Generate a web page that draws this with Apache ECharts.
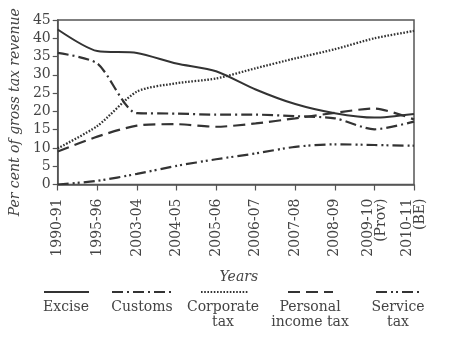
<!DOCTYPE html>
<html><head><meta charset="utf-8">
<script src="https://cdn.jsdelivr.net/npm/echarts@6/dist/echarts.min.js"></script>
<style>html,body{margin:0;padding:0;background:#fff}#c{width:451px;height:341px}</style>
</head><body><div id="c"></div>
<script>
const categories = ['1990-91','1995-96','2003-04','2004-05','2005-06','2006-07','2007-08','2008-09','2009-10\n(Prov)','2010-11\n(BE)'];
const excise    = [42.4, 36.5, 36.0, 33.1, 31.0, 26.0, 22.0, 19.5, 18.3, 19.3];
const customs   = [36.0, 33.1, 19.5, 19.4, 19.1, 19.1, 18.7, 18.1, 15.1, 17.2];
const corporate = [9.9, 16.0, 25.4, 27.7, 29.0, 31.8, 34.5, 37.0, 40.0, 42.0];
const personal  = [9.0, 13.1, 16.1, 16.5, 15.8, 16.7, 18.1, 19.6, 20.8, 17.8];
const service   = [0.0, 1.0, 2.9, 5.1, 6.9, 8.5, 10.3, 11.0, 10.8, 10.6];
const seriesNames = ['Excise','Customs','Corporate tax','Personal income tax','Service tax'];
const legendLabels = ['Excise','Customs','Corporate\ntax','Personal\nincome tax','Service\ntax'];
const yTicks = [0,5,10,15,20,25,30,35,40,45];

const FONT = 'DejaVu Serif';
const TXT = '#444';
const LINE = '#333';
const dashes = [null, [11,4,2,4], [1.6,1.6], [12,6], [11,4,2,3,2,4]];
const widths = [2, 2.2, 2.3, 2.2, 2.2];
const data = [excise, customs, corporate, personal, service];

const series = seriesNames.map((n,i)=>({
  name:n, type:'line', data:data[i], symbol:'none', smooth:0.25,
  lineStyle:{color:LINE, width:widths[i], type: dashes[i] || 'solid'},
  itemStyle:{color:LINE}
}));

const legendPos = [
  {left:43, w:45, cx:66},
  {left:111, w:61, cx:142},
  {left:200, w:48, cx:223},
  {left:287, w:45, cx:310},
  {left:375, w:46, cx:398}
];
const legends = seriesNames.map((n,i)=>({
  data:[n], left:legendPos[i].left, top:285, padding:0, itemGap:0,
  itemWidth:legendPos[i].w, itemHeight:14, selectedMode:false,
  itemStyle:{color:'rgba(0,0,0,0)', borderWidth:0, opacity:0},
  formatter:()=>'', textStyle:{fontSize:1}
}));
const graphics = legendLabels.map((t,i)=>({
  type:'text',
  style:{text:t, x:legendPos[i].cx, y:300, fill:TXT, font:'14px "'+FONT+'"', textAlign:'center', textVerticalAlign:'top', lineHeight:15}
}));

const chart = echarts.init(document.getElementById('c'), null, {renderer:'canvas'});
chart.setOption({
  backgroundColor:'#fff',
  animation:false,
  grid:{left:50, right:37, top:20, bottom:156.5, show:true, borderColor:'#555', borderWidth:1.5, backgroundColor:'transparent'},
  legend: legends,
  xAxis:{
    type:'category', data:categories, boundaryGap:false, offset:5,
    axisLine:{lineStyle:{color:'#555', width:1.5}},
    axisTick:{show:true, length:6, interval:0, lineStyle:{color:'#555', width:1.2}},
    axisLabel:{interval:0, rotate:90, margin:9, fontFamily:FONT, fontSize:14, color:TXT, lineHeight:13},
    name:'Years', nameLocation:'middle', nameGap:81,
    nameTextStyle:{fontFamily:FONT, fontStyle:'italic', fontSize:14, color:TXT, padding:[0,0,0,6]}
  },
  yAxis:{
    type:'value', min:0, max:45, interval:5,
    axisLine:{show:true, lineStyle:{color:'#555', width:1.5}},
    axisTick:{show:true, length:5, lineStyle:{color:'#555', width:1.2}},
    splitLine:{show:false},
    axisLabel:{margin:7, fontFamily:FONT, fontSize:14, color:TXT, formatter:v=>yTicks.includes(v)?String(v):''},
    name:'Per cent of gross tax revenue', nameLocation:'middle', nameGap:34,
    nameTextStyle:{fontFamily:FONT, fontStyle:'italic', fontSize:14, color:TXT, padding:[0,20,0,0]}
  },
  graphic: graphics,
  series: series
});
</script></body></html>
